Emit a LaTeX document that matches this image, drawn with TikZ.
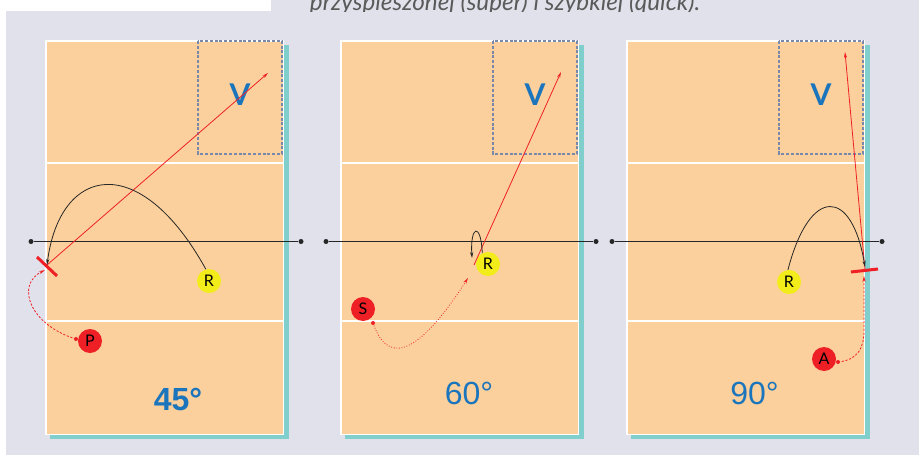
\documentclass[tikz,border=0pt]{standalone}
\usepackage{fontspec}
\setmainfont{Lato}
\newfontfamily\anglefont{Liberation Sans}
\usetikzlibrary{arrows.meta}
\definecolor{bgc}{HTML}{E1E1EB}
\definecolor{peach}{HTML}{FCD09C}
\definecolor{shadowc}{HTML}{80CFCC}
\definecolor{courtred}{HTML}{EE2026}
\definecolor{ballyellow}{HTML}{F2EC1A}
\definecolor{zoneblue}{HTML}{1B75BC}
\definecolor{dashc}{HTML}{7A88AC}
\definecolor{textgray}{HTML}{5A5A5A}
\tikzset{
  ball/.style={circle, fill=#1, minimum size=24pt, inner sep=0pt, text=black,
    font=\fontsize{16}{16}\selectfont},
  vlabel/.style={text=zoneblue, font=\fontsize{30}{30}\selectfont\bfseries},
  anglelabel/.style={text=zoneblue, font=\fontsize{32}{32}\selectfont\anglefont},
  netdot/.style={circle, fill=black!85, minimum size=5pt, inner sep=0pt},
  netline/.style={black!85, line width=1.5pt},
  redline/.style={courtred, line width=0.8pt},
  xmark/.style={courtred, line width=3pt},
  blackcurve/.style={black!85, line width=0.8pt},
  reddash/.style={courtred, line width=0.8pt, dash pattern=on 2.2pt off 1.6pt},
  reddot/.style={courtred, line width=0.8pt, dash pattern=on 0.8pt off 1.8pt},
  tip/.style={-{Stealth[length=6pt,width=3.2pt]}},
  zone/.style={dashc, line width=1.3pt, dash pattern=on 3pt off 1.8pt},
}
\begin{document}
\begin{tikzpicture}[x=1pt,y=-1pt]
\useasboundingbox (0,0) rectangle (919,455);
% background
\fill[white] (0,0) rectangle (919,455);
\fill[bgc] (6,11) rectangle (919,455);
\fill[bgc] (271,0) rectangle (919,11);
% top caption (cut)
\begin{scope}
\clip (271,0) rectangle (919,11.5);
\node[anchor=base, inner sep=0pt, text=textgray] (cap) at (505,10.5)
  {\resizebox{390pt}{!}{\itshape przyspieszonej (super) i szybkiej (quick).}};
\end{scope}
% courts
\foreach \o in {0,295,581} {
\begin{scope}[xshift=\o pt]
  \fill[shadowc] (50,45) rectangle (289,439);
  \draw[white, line width=1.5pt, fill=peach] (45.75,40.75) rectangle (283.25,434.25);
  \draw[white, line width=2pt] (45.75,163) -- (283.25,163);
  \draw[white, line width=2pt] (45.75,321) -- (283.25,321);
  \draw[zone] (198,41) rectangle (282,154);
  \node[vlabel] (v\o) at (240,95) {V};
  \node[netdot] (na\o) at (31,241.5) {};
  \node[netdot] (nb\o) at (301,241.5) {};
  \draw[netline] (na\o) -- (nb\o);
\end{scope}
}
% angle labels
\node[anglelabel, font=\fontsize{32}{32}\selectfont\anglefont\bfseries] (a45) at (178,400) {45°};
\node[anglelabel] (a60) at (469,393.5) {60°};
\node[anglelabel] (a90) at (754.5,393) {90°};

% ---------- court 1 ----------
\coordinate (x1) at (47,265);
\coordinate (t1) at (268,73);
\draw[xmark] (37,257) -- (57,276);
\draw[redline, tip] (x1) -- (t1);
\node[ball=ballyellow] (r1) at (209,281) {R};
\node[ball=courtred] (p1) at (90,341) {P};
\draw[blackcurve, tip] (r1.105) .. controls (140,150) and (60,165) .. (x1);
\coordinate (p1s) at (76,339);
\fill[courtred] (p1s) circle (2);
\coordinate (x1b) at (45,270);
\draw[reddash, tip] (p1s) .. controls (30,325) and (15,285) .. (x1b);

% ---------- court 2 ----------
\node[ball=ballyellow] (r2) at (488,264) {R};
\coordinate (l2) at (474,265);
\coordinate (t2) at (561,72);
\draw[redline, tip] (l2) -- (t2);
\coordinate (k2) at (472,258);
\draw[blackcurve, tip] (r2.118) .. controls (481,222) and (470,225) .. (k2);
\node[ball=courtred] (s2) at (363,309) {S};
\coordinate (s2s) at (373,323);
\fill[courtred] (s2s) circle (2);
\coordinate (e2) at (468,278);
\draw[reddot, tip] (s2s) .. controls (390,372) and (425,345) .. (e2);

% ---------- court 3 ----------
\coordinate (x3) at (865,270);
\coordinate (t3) at (845,52);
\draw[xmark] (851,272) -- (878,269);
\draw[redline, tip] (x3) -- (t3);
\node[ball=ballyellow] (r3) at (789,282) {R};
\coordinate (k3) at (865,267);
\draw[blackcurve, tip] (r3.95) .. controls (810,185) and (852,188) .. (k3);
\node[ball=courtred] (a3) at (824,359) {A};
\coordinate (a3s) at (838,362);
\fill[courtred] (a3s) circle (2);
\coordinate (e3) at (864,276);
\draw[reddash, tip] (a3s) .. controls (858,360) and (864,348) .. (864,330) -- (e3);
\end{tikzpicture}
\end{document}
